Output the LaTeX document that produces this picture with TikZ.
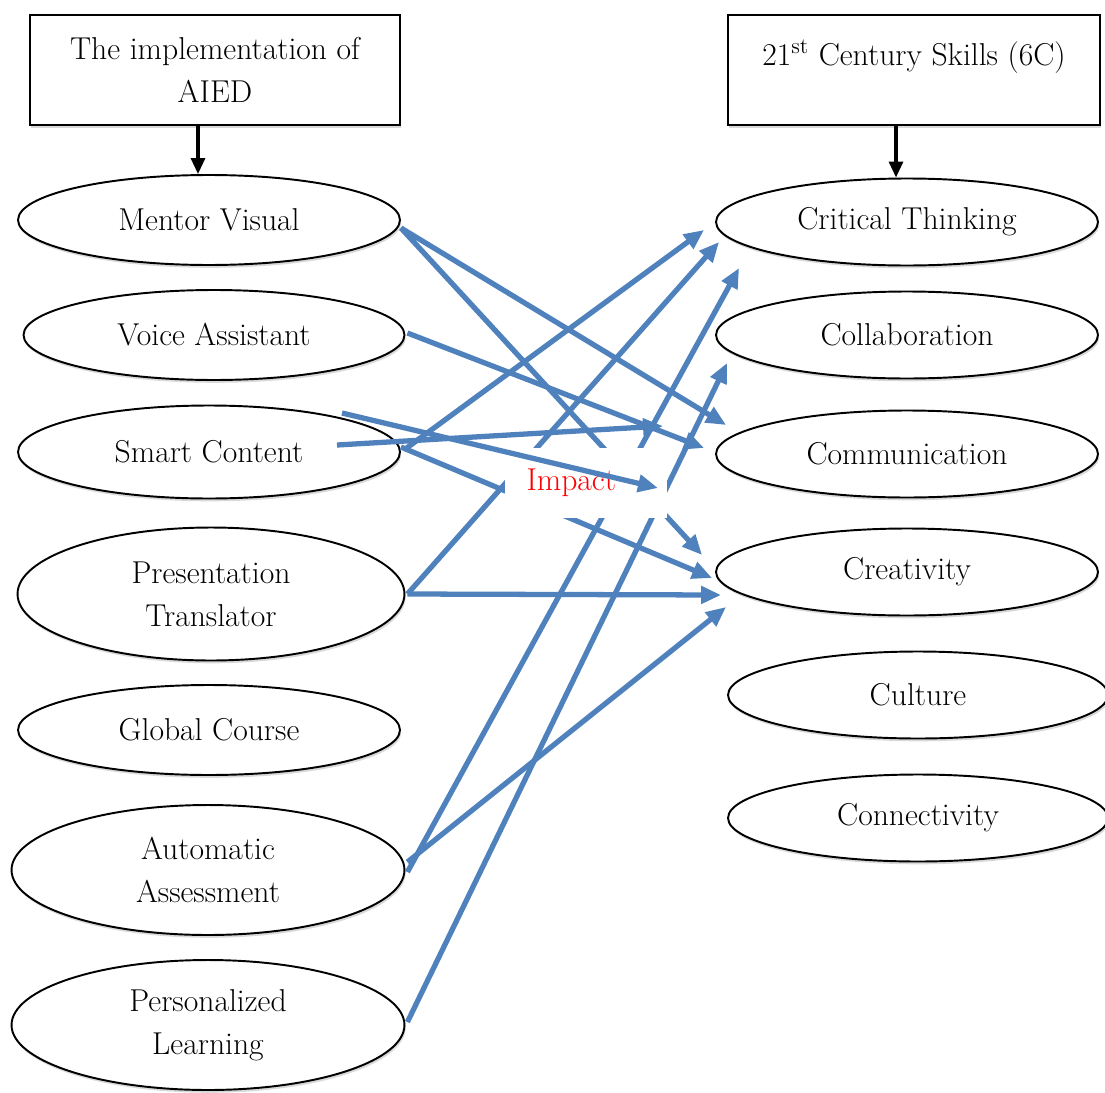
\documentclass[tikz,border=0pt]{standalone}
\usepackage{tikz}
\usetikzlibrary{arrows.meta, shapes, positioning, calc, shadows}
\definecolor{linkblue}{RGB}{79,129,189}

\begin{document}
\begin{tikzpicture}[x=0.02cm, y=-0.02cm,
 font=\fontsize{18}{24.4}\selectfont,
 soft shadow/.style={drop shadow={opacity=0.3, shadow xshift=0.7pt, shadow yshift=-1.6pt}},
 head box/.style={rectangle, draw, line width=1.1pt, fill=white, align=center,
   minimum width=7.4cm, minimum height=2.2cm, soft shadow},
 item node/.style={ellipse, draw, line width=1.1pt, fill=white, inner sep=0pt,
   align=center, minimum width=7.64cm, minimum height=1.8cm, soft shadow},
 skill node/.style={item node, minimum height=1.74cm},
 link/.style={draw=linkblue, line width=3pt, -{Triangle[length=0.4cm, width=0.34cm]}},
 head arrow/.style={draw, line width=1.8pt, -{Triangle[length=0.32cm, width=0.28cm]}},
 impact/.style={fill=white, text=red, inner xsep=0.44cm, inner ysep=0pt,
   text width=2.38cm, minimum height=1.4cm, align=left}]
  \useasboundingbox (0,0) rectangle (1105,1092);

  % headings
  \node[head box] (aied) at (215,70) {The implementation of\\AIED};
  \node[head box, minimum width=7.44cm, inner ysep=0pt, text height=1cm,
    text depth=1.2cm] (sixc) at (914,70) {21\textsuperscript{st} Century Skills (6C)};

  % AIED tools
  \node[item node] (mv) at (209,220) {Mentor Visual};
  \node[item node, minimum width=7.62cm] (va) at (214,335) {Voice Assistant};
  \node[item node, minimum height=1.86cm] (sc) at (209,452) {Smart Content};
  \node[item node, minimum width=7.74cm, minimum height=2.66cm] (pt) at (211,594)
    {Presentation\\Translator};
  \node[item node] (gc) at (209,730) {Global Course};
  \node[item node, minimum width=7.86cm, minimum height=2.6cm] (aa) at (208,870)
    {Automatic\\Assessment};
  \node[item node, minimum width=7.86cm, minimum height=2.6cm] (pl) at (208,1025)
    {Personalized\\Learning};

  % skills
  \node[skill node] (crit) at (907,222) {Critical Thinking};
  \node[skill node] (collab) at (907,335) {Collaboration};
  \node[skill node] (comm) at (907,454) {Communication};
  \node[skill node] (crea) at (907,572) {Creativity};
  \node[skill node, minimum width=7.6cm] (cult) at (918,695) {Culture};
  \node[skill node, minimum width=7.6cm] (conn) at (918,818) {Connectivity};

  \draw[head arrow] ($(aied.south)+(-17,0)$) -- ($(mv.north)+(-11,0)$);
  \draw[head arrow] ($(sixc.south)+(-18,0)$) -- ($(crit.north)+(-11,0)$);

  % links
  \draw[link] ($(mv.east)+(0,8)$) -- ($(comm.west)+(11,-29)$);
  \draw[link] ($(mv.east)+(0,8)$) -- ($(crea.west)+(-13,-17)$);
  \draw[link] ($(va.east)+(2,-2)$) -- ($(comm.west)+(-11,-6)$);
  \draw[link] ($(sc.east)+(3,-2)$) -- ($(crit.west)+(-11,8)$);
  \draw[link] ($(sc.east)+(0,-5)$) -- ($(crea.west)+(-3,6)$);
  \draw[link] ($(pt.east)+(2,0)$) -- ($(crit.west)+(4,20)$);
  \draw[link] ($(pt.east)+(2,0)$) -- ($(crea.west)+(6,23)$);
  \draw[link] ($(aa.east)+(2,2)$) -- ($(crit.west)+(24,46)$);
  \draw[link] ($(aa.east)+(2,-8)$) -- ($(crea.west)+(11,35)$);
  \draw[link] ($(pl.east)+(2,-3)$) -- ($(collab.west)+(12,28)$);

  \node[impact] (imp) at (586,483) {Impact};

  \coordinate (s1) at (337,445);
  \coordinate (e1) at (663,426);
  \coordinate (s2) at (342,413);
  \coordinate (e2) at (658,488);
  \foreach \s/\t in {s1/e1, s2/e2} {
   \draw[link] (\s) -- (\t);}
\end{tikzpicture}
\end{document}
